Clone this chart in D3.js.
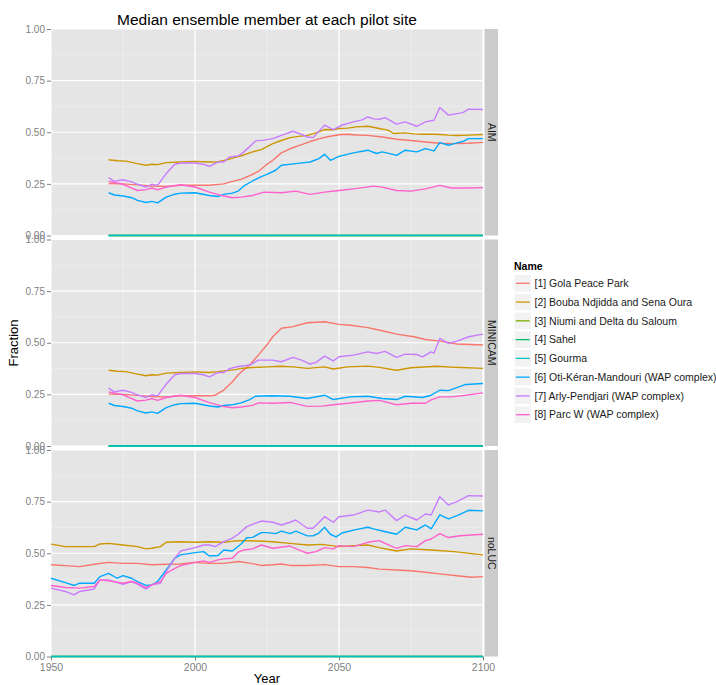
<!DOCTYPE html>
<html>
<head>
<meta charset="utf-8">
<script src="https://cdn.jsdelivr.net/npm/d3@7"></script>
<style>
  html, body { margin: 0; padding: 0; background: #ffffff; }
  svg { display: block; font-family: "Liberation Sans", Arial, Helvetica, sans-serif; }
</style>
</head>
<body>
<svg id="chart" width="716" height="685"></svg>
<script>
// ---- categories ----
const siteNames = [
  "[1] Gola Peace Park",
  "[2] Bouba Ndjidda and Sena Oura",
  "[3] Niumi and Delta du Saloum",
  "[4] Sahel",
  "[5] Gourma",
  "[6] Oti-Kéran-Mandouri (WAP complex)",
  "[7] Arly-Pendjari (WAP complex)",
  "[8] Parc W (WAP complex)"
];
const siteColors = ["#F8766D", "#CD9600", "#7CAE00", "#00BE67", "#00BFC4", "#00A9FF", "#C77CFF", "#FF61CC"];
const scenarios = ["AIM", "MINICAM", "noLUC"];
const yTicks = [0, 0.25, 0.5, 0.75, 1];
const yTickLabels = ["0.00", "0.25", "0.50", "0.75", "1.00"];
const xTicks = [1950, 2000, 2050, 2100];
const xTickLabels = ["1950", "2000", "2050", "2100"];

// ---- AIM: [year, fraction] ----
const aimGola = [[1970,.251],[1975,.250],[1980,.245],[1985,.240],[1990,.238],[1995,.243],[2000,.243],[2005,.243],[2010,.250],[2013,.262],[2016,.272],[2019,.290],[2022,.310],[2025,.345],[2027,.364],[2030,.400],[2033,.420],[2036,.435],[2040,.455],[2043,.468],[2046,.478],[2050,.488],[2053,.490],[2056,.487],[2060,.485],[2065,.477],[2070,.466],[2075,.460],[2080,.453],[2085,.447],[2090,.445],[2095,.447],[2100,.451]];
const aimBouba = [[1970,.367],[1973,.362],[1976,.360],[1980,.348],[1983,.340],[1985,.345],[1987,.343],[1990,.353],[1995,.356],[2000,.359],[2005,.356],[2008,.357],[2011,.366],[2014,.378],[2017,.390],[2020,.405],[2023,.416],[2027,.445],[2030,.460],[2033,.474],[2036,.480],[2039,.485],[2042,.497],[2045,.513],[2048,.512],[2050,.518],[2053,.520],[2056,.526],[2060,.529],[2064,.518],[2067,.510],[2069,.494],[2073,.497],[2076,.492],[2079,.490],[2082,.491],[2085,.489],[2088,.486],[2091,.484],[2095,.486],[2100,.489]];
const aimNiumi = [[1970,0],[2100,0]];
const aimSahel = [[1970,0],[2100,0]];
const aimGourma = [[1970,0],[2100,0]];
const aimOti = [[1970,.207],[1972,.196],[1975,.191],[1978,.183],[1980,.170],[1983,.160],[1985,.165],[1987,.158],[1990,.186],[1993,.200],[1995,.205],[2000,.207],[2005,.194],[2008,.189],[2010,.199],[2013,.205],[2015,.215],[2017,.240],[2020,.264],[2023,.285],[2025,.296],[2028,.316],[2030,.340],[2035,.348],[2040,.356],[2043,.372],[2045,.393],[2047,.364],[2050,.383],[2055,.400],[2060,.413],[2063,.397],[2065,.405],[2068,.395],[2070,.388],[2073,.413],[2077,.405],[2080,.421],[2083,.410],[2085,.450],[2088,.437],[2090,.445],[2093,.455],[2095,.469],[2100,.469]];
const aimArly = [[1970,.280],[1972,.262],[1975,.270],[1978,.260],[1980,.248],[1983,.235],[1985,.248],[1987,.243],[1990,.300],[1993,.345],[1995,.351],[2000,.351],[2003,.345],[2005,.335],[2008,.356],[2010,.356],[2012,.380],[2015,.385],[2017,.405],[2021,.458],[2024,.462],[2027,.469],[2030,.485],[2034,.505],[2037,.490],[2039,.477],[2041,.474],[2045,.534],[2048,.513],[2051,.534],[2055,.550],[2058,.560],[2060,.574],[2062,.565],[2064,.563],[2066,.571],[2070,.539],[2073,.550],[2077,.529],[2080,.550],[2083,.558],[2085,.620],[2088,.583],[2091,.590],[2093,.595],[2095,.612],[2100,.610]];
const aimParcW = [[1970,.262],[1975,.248],[1980,.218],[1983,.222],[1985,.230],[1987,.221],[1990,.235],[1995,.246],[2000,.235],[2005,.210],[2010,.191],[2013,.183],[2016,.186],[2020,.194],[2024,.210],[2030,.207],[2035,.215],[2040,.199],[2045,.210],[2050,.218],[2055,.226],[2062,.239],[2065,.234],[2070,.218],[2075,.215],[2080,.226],[2085,.243],[2089,.230],[2095,.230],[2100,.232]];

// ---- MINICAM ----
const minicamGola = [[1970,.251],[1975,.250],[1980,.245],[1985,.240],[1990,.238],[1995,.243],[2000,.243],[2005,.243],[2007,.246],[2010,.271],[2013,.311],[2015,.345],[2017,.370],[2019,.392],[2022,.440],[2025,.490],[2027,.529],[2030,.570],[2034,.578],[2039,.597],[2045,.602],[2050,.589],[2054,.585],[2060,.573],[2065,.558],[2070,.542],[2076,.529],[2080,.516],[2085,.508],[2091,.494],[2100,.489]];
const minicamBouba = [[1970,.367],[1973,.362],[1976,.360],[1980,.348],[1983,.340],[1985,.345],[1987,.343],[1990,.353],[1995,.356],[2000,.359],[2005,.356],[2008,.360],[2011,.365],[2014,.370],[2016,.376],[2020,.380],[2025,.383],[2030,.386],[2034,.383],[2039,.376],[2045,.383],[2048,.373],[2053,.383],[2060,.387],[2064,.381],[2070,.367],[2075,.379],[2084,.386],[2090,.381],[2100,.376]];
const minicamNiumi = [[1970,0],[2100,0]];
const minicamSahel = [[1970,0],[2100,0]];
const minicamGourma = [[1970,0],[2100,0]];
const minicamOti = [[1970,.207],[1972,.196],[1975,.191],[1978,.183],[1980,.170],[1983,.160],[1985,.165],[1987,.158],[1990,.186],[1993,.200],[1995,.205],[2000,.207],[2005,.194],[2008,.189],[2010,.196],[2013,.200],[2016,.209],[2019,.225],[2021,.241],[2027,.243],[2033,.241],[2039,.230],[2045,.246],[2048,.225],[2054,.238],[2060,.241],[2065,.230],[2070,.225],[2073,.241],[2079,.235],[2082,.246],[2085,.270],[2088,.268],[2094,.298],[2100,.303]];
const minicamArly = [[1970,.280],[1972,.262],[1975,.270],[1978,.260],[1980,.248],[1983,.235],[1985,.248],[1987,.243],[1990,.300],[1993,.345],[1995,.351],[2000,.351],[2003,.345],[2005,.335],[2008,.356],[2010,.356],[2012,.375],[2015,.385],[2019,.392],[2022,.416],[2027,.416],[2030,.408],[2034,.429],[2037,.416],[2040,.397],[2042,.405],[2045,.435],[2048,.412],[2050,.432],[2055,.440],[2060,.456],[2063,.448],[2066,.458],[2070,.429],[2073,.445],[2077,.443],[2079,.432],[2082,.456],[2083,.450],[2085,.521],[2088,.497],[2091,.508],[2095,.529],[2100,.542]];
const minicamParcW = [[1970,.262],[1975,.248],[1980,.218],[1983,.222],[1985,.230],[1987,.221],[1990,.235],[1995,.246],[2000,.235],[2005,.210],[2010,.191],[2013,.185],[2016,.189],[2020,.197],[2022,.209],[2027,.207],[2033,.211],[2039,.192],[2044,.193],[2048,.200],[2054,.208],[2060,.218],[2064,.221],[2070,.200],[2075,.207],[2080,.207],[2082,.223],[2085,.238],[2089,.238],[2094,.246],[2100,.257]];

// ---- noLUC ----
const noLUCGola = [[1950,.444],[1955,.440],[1960,.435],[1965,.447],[1970,.456],[1975,.451],[1980,.451],[1985,.444],[1990,.447],[1995,.448],[2000,.456],[2005,.451],[2010,.451],[2015,.460],[2019,.452],[2023,.441],[2027,.444],[2030,.448],[2033,.441],[2039,.441],[2045,.445],[2050,.435],[2055,.435],[2060,.431],[2064,.423],[2070,.419],[2075,.415],[2080,.408],[2085,.400],[2091,.391],[2096,.384],[2100,.387]];
const noLUCBouba = [[1950,.544],[1955,.532],[1960,.532],[1965,.532],[1967,.545],[1970,.548],[1975,.540],[1980,.532],[1983,.521],[1985,.524],[1988,.532],[1990,.553],[1995,.556],[2000,.553],[2005,.556],[2010,.553],[2015,.561],[2022,.559],[2027,.556],[2033,.548],[2039,.540],[2044,.543],[2050,.532],[2055,.537],[2060,.540],[2064,.527],[2070,.511],[2075,.521],[2082,.516],[2090,.508],[2100,.492]];
const noLUCNiumi = [[1950,0],[2100,0]];
const noLUCSahel = [[1950,0],[2100,0]];
const noLUCGourma = [[1950,0],[2100,0]];
const noLUCOti = [[1950,.379],[1955,.358],[1958,.344],[1960,.355],[1965,.355],[1967,.387],[1970,.403],[1973,.379],[1975,.392],[1978,.379],[1980,.363],[1983,.344],[1985,.347],[1987,.363],[1990,.419],[1993,.476],[1995,.492],[2000,.503],[2003,.508],[2005,.487],[2008,.489],[2010,.516],[2013,.511],[2016,.545],[2018,.575],[2020,.577],[2023,.600],[2025,.600],[2028,.595],[2030,.607],[2033,.595],[2035,.607],[2039,.584],[2041,.584],[2043,.598],[2045,.626],[2047,.592],[2049,.579],[2051,.598],[2055,.612],[2060,.626],[2062,.618],[2065,.608],[2070,.592],[2073,.626],[2077,.613],[2080,.637],[2082,.618],[2085,.686],[2088,.666],[2091,.682],[2095,.708],[2100,.705]];
const noLUCArly = [[1950,.331],[1955,.315],[1958,.298],[1960,.315],[1965,.327],[1967,.371],[1970,.371],[1975,.350],[1978,.363],[1980,.350],[1983,.326],[1985,.347],[1988,.355],[1990,.411],[1993,.476],[1995,.511],[2000,.527],[2003,.540],[2005,.540],[2007,.532],[2010,.556],[2013,.573],[2015,.592],[2018,.629],[2023,.656],[2027,.650],[2030,.637],[2033,.650],[2035,.661],[2039,.621],[2041,.621],[2045,.677],[2048,.650],[2050,.677],[2055,.685],[2060,.709],[2064,.700],[2066,.709],[2070,.658],[2073,.685],[2077,.661],[2080,.690],[2082,.685],[2085,.774],[2088,.734],[2091,.750],[2095,.779],[2100,.777]];
const noLUCParcW = [[1950,.344],[1955,.334],[1960,.331],[1965,.339],[1967,.371],[1970,.366],[1975,.355],[1978,.363],[1980,.355],[1983,.334],[1985,.347],[1988,.363],[1990,.403],[1993,.427],[1995,.440],[2000,.456],[2003,.463],[2005,.456],[2008,.468],[2010,.473],[2013,.476],[2015,.505],[2017,.516],[2020,.521],[2023,.540],[2027,.524],[2033,.535],[2036,.516],[2039,.500],[2042,.508],[2045,.527],[2048,.521],[2050,.537],[2055,.532],[2060,.553],[2064,.561],[2066,.548],[2070,.524],[2073,.537],[2077,.532],[2080,.561],[2082,.569],[2085,.595],[2088,.576],[2092,.585],[2100,.592]];

const panelSeries = {
  AIM: [aimGola, aimBouba, aimNiumi, aimSahel, aimGourma, aimOti, aimArly, aimParcW],
  MINICAM: [minicamGola, minicamBouba, minicamNiumi, minicamSahel, minicamGourma, minicamOti, minicamArly, minicamParcW],
  noLUC: [noLUCGola, noLUCBouba, noLUCNiumi, noLUCSahel, noLUCGourma, noLUCOti, noLUCArly, noLUCParcW]
};

// ---- layout ----
const svg = d3.select("#chart");
const plotLeft = 51, plotRight = 483;
const panelTops = [29, 239.5, 450];
const panelH = 206.5;
const stripX = 484.5, stripW = 13.5;
const gridMajor = "#ffffff", gridMinor = "#F2F2F2", panelFill = "#E5E5E5";
const tickGrey = "#7F7F7F";

const x = d3.scaleLinear().domain([1950, 2100]).range([plotLeft, plotRight]);
const color = d3.scaleOrdinal().domain(siteNames).range(siteColors);

// panel backgrounds, grids, strips and axes first
const yScales = scenarios.map((sc, i) => {
  const top = panelTops[i];
  const y = d3.scaleLinear().domain([0, 1]).range([top + panelH, top]);
  const g = svg.append("g").attr("class", "panel");

  g.append("rect")
    .attr("x", plotLeft).attr("y", top)
    .attr("width", plotRight - plotLeft).attr("height", panelH)
    .attr("fill", panelFill);

  const yMinor = [0.125, 0.375, 0.625, 0.875];
  const xMinor = [1975, 2025, 2075];
  g.selectAll(".ymin").data(yMinor).join("line")
    .attr("x1", plotLeft).attr("x2", plotRight)
    .attr("y1", d => y(d)).attr("y2", d => y(d))
    .attr("stroke", gridMinor).attr("stroke-width", 0.6);
  g.selectAll(".xmin").data(xMinor).join("line")
    .attr("x1", d => x(d)).attr("x2", d => x(d))
    .attr("y1", top).attr("y2", top + panelH)
    .attr("stroke", gridMinor).attr("stroke-width", 0.6);

  g.selectAll(".ymaj").data(yTicks).join("line")
    .attr("x1", plotLeft).attr("x2", plotRight)
    .attr("y1", d => y(d)).attr("y2", d => y(d))
    .attr("stroke", gridMajor).attr("stroke-width", 1.2);
  g.selectAll(".xmaj").data(xTicks).join("line")
    .attr("x1", d => x(d)).attr("x2", d => x(d))
    .attr("y1", top).attr("y2", top + panelH)
    .attr("stroke", gridMajor).attr("stroke-width", 1.2);

  const yAxis = d3.axisLeft(y).tickValues(yTicks)
    .tickFormat((d, j) => yTickLabels[j]).tickSize(4).tickPadding(2);
  const ya = svg.append("g").attr("transform", `translate(${plotLeft},0)`).call(yAxis);
  ya.select(".domain").remove();
  ya.selectAll("line").attr("stroke", tickGrey);
  ya.selectAll("text").attr("fill", tickGrey).style("font-size", "10px")
    .style("font-family", "'Liberation Sans', Arial, sans-serif");

  svg.append("rect")
    .attr("x", stripX).attr("y", top)
    .attr("width", stripW).attr("height", panelH)
    .attr("fill", "#CCCCCC");
  svg.append("text")
    .attr("transform", `translate(${stripX + stripW / 2},${top + panelH / 2}) rotate(90)`)
    .attr("text-anchor", "middle").attr("dy", "0.35em")
    .attr("fill", "#1A1A1A").style("font-size", "10.5px")
    .text(sc);

  if (i === scenarios.length - 1) {
    const xAxis = d3.axisBottom(x).tickValues(xTicks)
      .tickFormat((d, j) => xTickLabels[j]).tickSize(4).tickPadding(3);
    const xa = svg.append("g").attr("transform", `translate(0,${top + panelH})`).call(xAxis);
    xa.select(".domain").remove();
    xa.selectAll("line").attr("stroke", tickGrey);
    xa.selectAll("text").attr("fill", tickGrey).style("font-size", "10.5px")
      .style("font-family", "'Liberation Sans', Arial, sans-serif");
  }
  return y;
});

// series lines on top of every panel
scenarios.forEach((sc, i) => {
  const y = yScales[i];
  const line = d3.line().x(d => x(d[0])).y(d => y(d[1]));
  const g = svg.append("g").attr("class", "series");
  panelSeries[sc].forEach((s, k) => {
    g.append("path")
      .datum(s)
      .attr("d", line)
      .attr("fill", "none")
      .attr("stroke", color(siteNames[k]))
      .attr("stroke-width", 1.4)
      .attr("stroke-linejoin", "round");
  });
});

// titles
svg.append("text")
  .attr("x", (plotLeft + plotRight) / 2).attr("y", 25)
  .attr("text-anchor", "middle").style("font-size", "15.5px").attr("fill", "#000")
  .text("Median ensemble member at each pilot site");
svg.append("text")
  .attr("x", (plotLeft + plotRight) / 2).attr("y", 682.5)
  .attr("text-anchor", "middle").style("font-size", "13px").attr("fill", "#000")
  .text("Year");
svg.append("text")
  .attr("transform", `translate(18,343) rotate(-90)`)
  .attr("text-anchor", "middle").style("font-size", "13px").attr("fill", "#000")
  .text("Fraction");

// legend
const legend = svg.append("g").attr("transform", "translate(514,0)");
legend.append("text")
  .attr("x", 0).attr("y", 270)
  .style("font-size", "10.5px").style("font-weight", "bold").attr("fill", "#000")
  .text("Name");
const rowY0 = 283.3, rowStep = 18.77, keyW = 17.5;
siteNames.forEach((name, k) => {
  const cy = rowY0 + k * rowStep;
  legend.append("rect")
    .attr("x", 0).attr("y", cy - keyW / 2)
    .attr("width", keyW).attr("height", keyW)
    .attr("fill", "#F2F2F2").attr("stroke", "#ffffff").attr("stroke-width", 1);
  legend.append("line")
    .attr("x1", 1.8).attr("x2", keyW - 1.8)
    .attr("y1", cy).attr("y2", cy)
    .attr("stroke", color(name)).attr("stroke-width", 1.3);
  legend.append("text")
    .attr("x", 20.5).attr("y", cy).attr("dy", "0.35em")
    .style("font-size", "10.5px").attr("fill", "#1A1A1A")
    .text(name);
});
</script>
</body>
</html>
